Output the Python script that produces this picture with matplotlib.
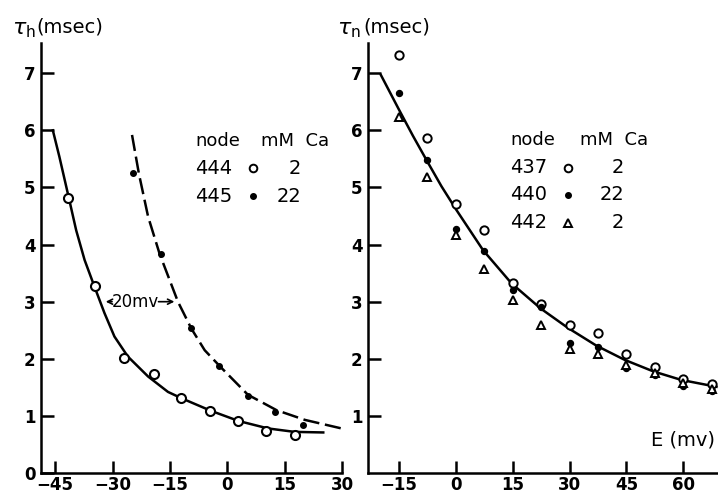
import matplotlib
matplotlib.use("Agg")
import matplotlib.pyplot as plt

# tau_h panel: node 444 (2 mM Ca) and node 445 (22 mM Ca)
h_E_444 = [-41.6, -34.5, -26.9, -19.1, -12.0, -4.4, 2.9, 10.2, 17.8]
h_tau_444 = [4.82, 3.27, 2.01, 1.73, 1.31, 1.09, 0.91, 0.74, 0.67]
h_E_445 = [-24.6, -17.2, -9.4, -2.1, 5.3, 12.6, 19.9]
h_tau_445 = [5.25, 3.83, 2.54, 1.87, 1.35, 1.07, 0.84]

# fitted curves
fit_h_solid_E = [-45.6, -43.9, -41.5, -39.5, -37.3, -34.7, -32.1, -29.5, -26.0, -20.7,
                 -15.5, -12.0, -4.3, 3.0, 10.7, 17.6, 25.1]
fit_h_solid_tau = [6.0, 5.54, 4.84, 4.25, 3.73, 3.26, 2.80, 2.39, 2.04, 1.69,
                   1.42, 1.31, 1.09, 0.91, 0.78, 0.72, 0.71]
fit_h_dash_E = [-24.9, -23.1, -20.7, -17.7, -12.9, -9.4, -5.9, -1.8, 5.4, 12.9, 20.3, 29.9]
fit_h_dash_tau = [5.92, 5.24, 4.49, 3.84, 3.0, 2.53, 2.15, 1.86, 1.37, 1.10, 0.93, 0.78]

# tau_n panel: nodes 437, 440, 442
n_E = [-15, -7.5, 0, 7.5, 15, 22.5, 30, 37.5, 45, 52.5, 60, 67.5]
n_tau_437 = [7.32, 5.87, 4.71, 4.26, 3.33, 2.96, 2.60, 2.45, 2.08, 1.86, 1.64, 1.56]
n_tau_440 = [6.65, 5.48, 4.27, 3.89, 3.20, 2.91, 2.27, 2.20, 1.83, 1.72, 1.53, 1.44]
n_tau_442 = [6.24, 5.19, 4.17, 3.57, 3.03, 2.59, 2.18, 2.08, 1.89, 1.75, 1.57, 1.47]
fit_n_E = [-19.8, -15.0, -11.3, -7.5, -3.8, 0.1, 7.2, 14.7, 22.4, 29.6, 37.1, 44.6, 52.1, 59.5, 68.8]
fit_n_tau = [6.97, 6.36, 5.90, 5.45, 5.02, 4.61, 3.90, 3.32, 2.88, 2.54, 2.23, 1.98, 1.78, 1.63, 1.51]

h_xticks = [-45, -30, -15, 0, 15, 30]
h_yticks = [0, 1, 2, 3, 4, 5, 6, 7]
n_xticks = [-15, 0, 15, 30, 45, 60]
n_yticks = [1, 2, 3, 4, 5, 6, 7]

W, H = 718, 493
fig = plt.figure(figsize=(W / 100, H / 100), dpi=100)


def px_box(x0, x1, y_top, y_bot):
    return [x0 / W, 1 - y_bot / H, (x1 - x0) / W, (y_bot - y_top) / H]


def style_axes(ax):
    for s in ["top", "right"]:
        ax.spines[s].set_visible(False)
    for s in ["left", "bottom"]:
        ax.spines[s].set_linewidth(1.8)
    ax.tick_params(direction="in", length=9, width=1.8, labelsize=12)
    ax.tick_params(axis="x", pad=2)
    ax.tick_params(axis="y", pad=4)
    for lab in ax.get_xticklabels() + ax.get_yticklabels():
        lab.set_fontweight("bold")


ax1 = fig.add_axes(px_box(41, 342, 43, 473))
ax2 = fig.add_axes(px_box(368, 718, 43, 473))

# left panel
ax1.plot(fit_h_solid_E, fit_h_solid_tau, color="black", lw=1.8)
ax1.plot(fit_h_dash_E, fit_h_dash_tau, color="black", lw=1.8, dashes=(6.5, 2.3))
ax1.plot(h_E_444, h_tau_444, "o", mfc="white", mec="black", ms=6.5, mew=1.5)
ax1.plot(h_E_445, h_tau_445, "o", color="black", ms=4)
ax1.set_xlim(-48.7, 30)
ax1.set_ylim(0, 7.53)
ax1.set_xticks(h_xticks)
ax1.set_yticks(h_yticks)
style_axes(ax1)

ax1.text(-24.1, 3.0, "20mv", fontsize=12, ha="center", va="center")
ax1.annotate("", xy=(-32.5, 3.0), xytext=(-29.4, 3.0),
             arrowprops=dict(arrowstyle="->", lw=1.2, mutation_scale=9))
ax1.annotate("", xy=(-13.1, 3.0), xytext=(-18.7, 3.0),
             arrowprops=dict(arrowstyle="->", lw=1.2, mutation_scale=9))

# right panel
ax2.plot(fit_n_E, fit_n_tau, color="black", lw=1.8)
ax2.plot(n_E, n_tau_437, "o", mfc="white", mec="black", ms=6, mew=1.4)
ax2.plot(n_E, n_tau_440, "o", color="black", ms=4.3)
ax2.plot(n_E, n_tau_442, "^", mfc="white", mec="black", ms=6, mew=1.4)
ax2.set_xlim(-23.2, 69.2)
ax2.set_ylim(0, 7.53)
ax2.set_xticks(n_xticks)
ax2.set_yticks(n_yticks)
style_axes(ax2)

# axis titles
fig.text(12 / W, 1 - 30 / H, r"$\tau_{\rm h}$", fontsize=16, va="center")
fig.text(36 / W, 1 - 27 / H, "(msec)", fontsize=14, va="center")
fig.text(337 / W, 1 - 30 / H, r"$\tau_{\rm n}$", fontsize=16, va="center")
fig.text(363 / W, 1 - 27 / H, "(msec)", fontsize=14, va="center")
fig.text(715 / W, 1 - 440 / H, "E (mv)", fontsize=14, ha="right", va="center")


# legends written as text blocks
def legend_block(x_node, x_mark, x_ca_right, x_mm, rows, y0, dy):
    fig.text(x_node / W, 1 - y0 / H, "node", fontsize=13, va="center")
    fig.text(x_mm / W, 1 - y0 / H, "mM  Ca", fontsize=13, va="center")
    for i, (node, marker, ca) in enumerate(rows):
        y = 1 - (y0 + dy * (i + 1)) / H
        fig.text(x_node / W, y, node, fontsize=14, va="center")
        fig.text(x_ca_right / W, y, ca, fontsize=14, va="center", ha="right")
        if marker == "o":
            fig.lines.append(plt.Line2D([x_mark / W], [y], marker="o", mfc="white", mec="black",
                                        ms=5.5, mew=1.4, transform=fig.transFigure))
        elif marker == "^":
            fig.lines.append(plt.Line2D([x_mark / W], [y], marker="^", mfc="white", mec="black",
                                        ms=5.5, mew=1.4, transform=fig.transFigure))
        else:
            fig.lines.append(plt.Line2D([x_mark / W], [y], marker="o", color="black",
                                        ms=4, transform=fig.transFigure))


legend_block(195, 253, 301, 261, [("444", "o", "2"), ("445", "*", "22")], 141, 27.5)
legend_block(510, 568, 624, 580, [("437", "o", "2"), ("440", "*", "22"), ("442", "^", "2")], 140, 27.5)

fig.savefig("out.png", dpi=100)
